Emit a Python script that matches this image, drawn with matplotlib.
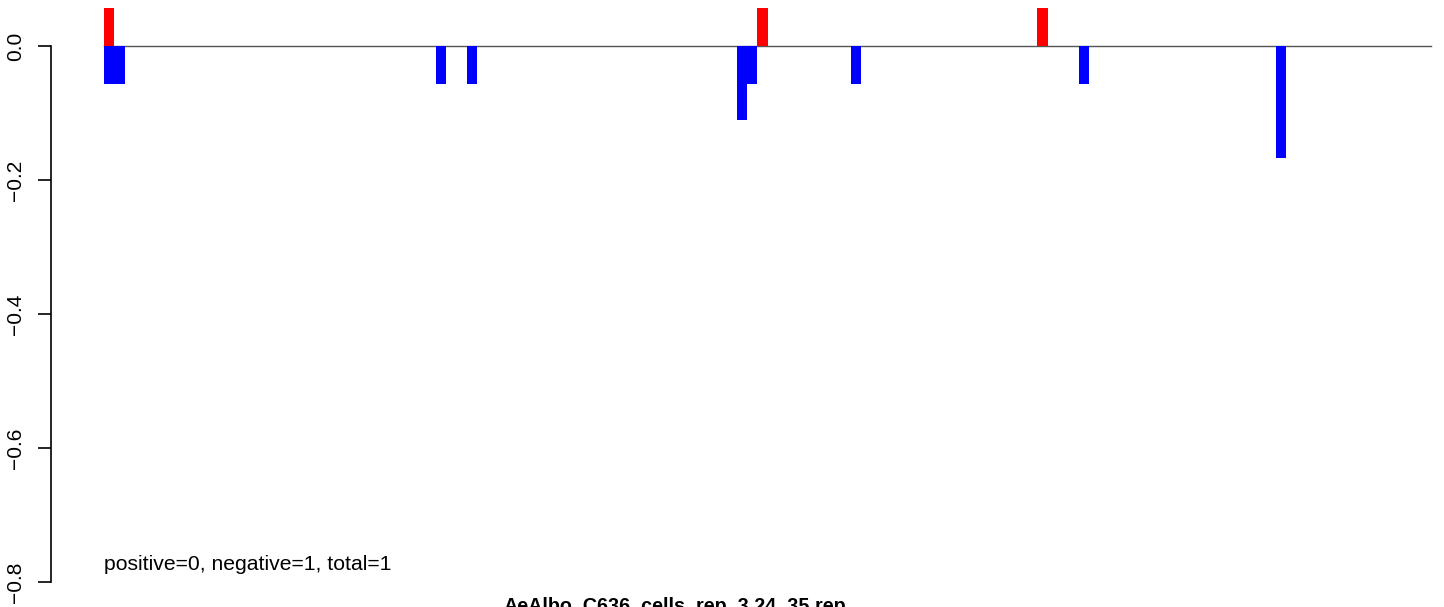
import matplotlib
matplotlib.use("Agg")
import matplotlib.pyplot as plt

# ---- data (bin index along the sequence, bar height) ----
N_BINS = 128
pos_bins = [0, 63, 90]
pos_vals = [0.056, 0.056, 0.056]
neg_bins = [0, 1, 32, 35, 61, 62, 72, 94, 113]
neg_vals = [-0.056, -0.056, -0.056, -0.056, -0.111, -0.056, -0.056, -0.056, -0.167]
y_ticks = [0.0, -0.2, -0.4, -0.6, -0.8]
y_tick_labels = ["0.0", "\u22120.2", "\u22120.4", "\u22120.6", "\u22120.8"]
counts_text = "positive=0, negative=1, total=1"
title_text = "AeAlbo_C636_cells_rep_3.24_35.rep"

plt.rcParams['font.family'] = ['Liberation Sans', 'DejaVu Sans']

W, H = 1444, 607
fig = plt.figure(figsize=(W / 100, H / 100), dpi=100)
ax = fig.add_axes([51 / W, 0, 1 - 51 / W, 1])

px_per_bin = 10.37
x0_px = 104
ax.set_xlim(-(x0_px - 51) / px_per_bin, (W - x0_px) / px_per_bin)
px_per_unit = 670.0
zero_px = 46
ax.set_ylim(-(H - zero_px) / px_per_unit, zero_px / px_per_unit)

ax.plot([0, N_BINS], [0, 0], color="#555555", lw=1.0, zorder=1)
ax.bar(pos_bins, pos_vals, width=1, align="edge", color="red", lw=0, zorder=2)
ax.bar(neg_bins, neg_vals, width=1, align="edge", color="blue", lw=0, zorder=2)

for s in ["top", "right", "bottom"]:
    ax.spines[s].set_visible(False)
ax.spines["left"].set_bounds(-0.8, 0.0)
ax.spines["left"].set_linewidth(1.2)
ax.set_xticks([])
ax.set_yticks(y_ticks)
ax.set_yticklabels(y_tick_labels, rotation=90, va="center", fontsize=15)
ax.tick_params(axis="y", length=9.5, width=1.2, pad=9)

ax.text(0, -0.774, counts_text, fontsize=15.2, ha="left", va="center")
# title sits at the bottom edge and is partly cut off, as in the original
fig.text(675 / W, 1 - 606 / H, title_text, fontsize=14.2, fontweight="bold",
         ha="center", va="center")

fig.savefig("out.png", dpi=100)
